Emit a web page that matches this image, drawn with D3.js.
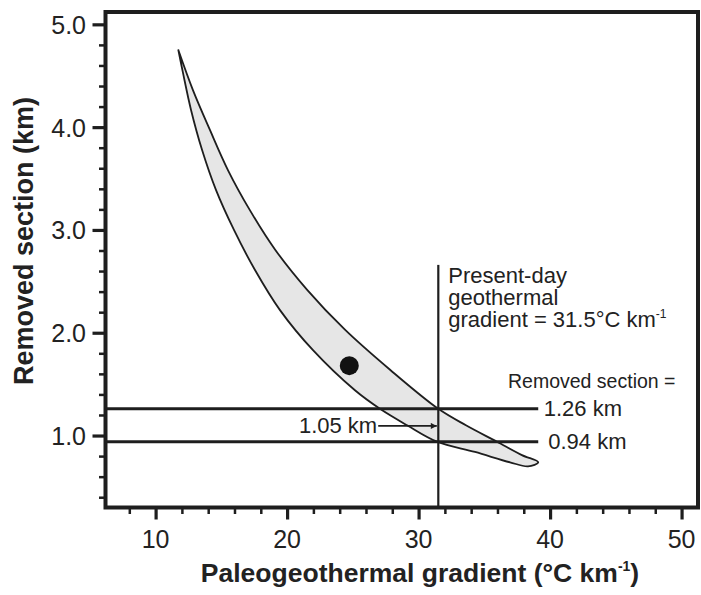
<!DOCTYPE html>
<html>
<head>
<meta charset="utf-8">
<script src="https://cdn.jsdelivr.net/npm/d3@7"></script>
<style>
  body { margin: 0; background: #fff; }
  svg { display: block; font-family: "Liberation Sans", Arial, Helvetica, sans-serif; }
</style>
</head>
<body>
<script>
// ticks
var xTicks = [10, 20, 30, 40, 50];
var xMinor = [8, 12, 14, 16, 18, 22, 24, 26, 28, 32, 34, 36, 38, 42, 44, 46, 48];
var yTicks = [1.0, 2.0, 3.0, 4.0, 5.0];
var yMinor = [0.4, 0.6, 0.8, 1.2, 1.4, 1.6, 1.8, 2.2, 2.4, 2.6, 2.8, 3.2, 3.4, 3.6, 3.8, 4.2, 4.4, 4.6, 4.8];

// band outline: upper (right) edge from top tip down to bottom tip
var upperX = [11.73, 12.84, 14.14, 15.51, 17.18, 19.08, 21.51, 24.40, 27.83, 31.50, 33.60, 35.96, 37.86, 39.10];
var upperY = [4.75, 4.36, 3.97, 3.58, 3.19, 2.81, 2.42, 2.03, 1.64, 1.26, 1.10, 0.94, 0.81, 0.74];
// lower (left) edge from top tip down to bottom tip
var lowerX = [11.73, 12.08, 12.69, 13.53, 14.59, 15.96, 17.56, 19.46, 21.97, 25.16, 27.06, 29.12, 31.40, 34.29, 36.95, 38.32, 39.10];
var lowerY = [4.75, 4.53, 4.17, 3.78, 3.39, 3.00, 2.61, 2.22, 1.83, 1.44, 1.26, 1.10, 0.94, 0.84, 0.74, 0.70, 0.74];

// sample point
var dotX = [24.73];
var dotY = [1.68];

// present-day gradient and removed sections
var presentGradient = 31.5;
var gradientTop = 2.66;
var removed = [1.26, 0.94];
var removedLabels = ["1.26 km", "0.94 km"];
var removedEnd = 39.1;
var arrowFrom = 26.93, arrowY = 1.094;

function ready() {
	var width = 701, height = 595,
			left = 105.5, right = 698, top = 12, bottom = 507.5,
			ink = '#1e1e1e';

	var svg = d3.select('body').append('svg')
		.attr('width', width)
		.attr('height', height);

	var x = d3.scaleLinear().domain([6.19, 51.25]).range([left, right]),
			y = d3.scaleLinear().domain([0.30, 5.12]).range([bottom, top]);

	svg.append('defs').append('marker')
		.attr('id', 'arr')
		.attr('viewBox', '0 0 10 10')
		.attr('refX', 10).attr('refY', 5)
		.attr('markerWidth', 8).attr('markerHeight', 6)
		.attr('markerUnits', 'userSpaceOnUse')
		.attr('orient', 'auto')
		.append('path').attr('d', 'M0,0L10,5L0,10z').attr('fill', ink);

	// band
	var pts = [];
	for (var i = 0; i < upperX.length; i++) pts.push([upperX[i], upperY[i]]);
	for (var j = lowerX.length - 2; j >= 0; j--) pts.push([lowerX[j], lowerY[j]]);
	var line = d3.line()
		.x(function(d) { return x(d[0]); })
		.y(function(d) { return y(d[1]); })
		.curve(d3.curveCatmullRom.alpha(0.5));
	svg.append('path')
		.attr('d', line(pts) + 'Z')
		.attr('fill', '#e6e6e6')
		.attr('stroke', ink)
		.attr('stroke-width', 1.8)
		.attr('stroke-linejoin', 'round');

	// dot
	svg.selectAll('circle.dot').data(dotX).enter().append('circle')
		.attr('class', 'dot')
		.attr('cx', function(d) { return x(d); })
		.attr('cy', function(d, i) { return y(dotY[i]); })
		.attr('r', 9.5)
		.attr('fill', '#111');

	// removed section lines
	svg.selectAll('line.rem').data(removed).enter().append('line')
		.attr('class', 'rem')
		.attr('x1', left).attr('x2', x(removedEnd))
		.attr('y1', function(d) { return y(d); })
		.attr('y2', function(d) { return y(d); })
		.attr('stroke', ink).attr('stroke-width', 3);

	svg.selectAll('text.rem').data(removed).enter().append('text')
		.attr('class', 'rem')
		.attr('x', function(d, i) { return x(removedEnd) + (i === 0 ? 5.5 : 10); })
		.attr('y', function(d) { return y(d) + 7.5; })
		.attr('font-size', 22)
		.attr('fill', '#222')
		.text(function(d, i) { return removedLabels[i]; });

	svg.append('text')
		.attr('x', 508).attr('y', y(removed[0]) - 21)
		.attr('font-size', 19.5)
		.attr('fill', '#222')
		.text('Removed section =');

	// present-day gradient line
	svg.append('line')
		.attr('x1', x(presentGradient)).attr('x2', x(presentGradient))
		.attr('y1', y(gradientTop)).attr('y2', bottom)
		.attr('stroke', ink).attr('stroke-width', 2.2);

	var pd = svg.append('text')
		.attr('x', x(presentGradient) + 10)
		.attr('font-size', 22)
		.attr('fill', '#222');
	pd.append('tspan').attr('x', x(presentGradient) + 10).attr('y', 283).text('Present-day');
	pd.append('tspan').attr('x', x(presentGradient) + 10).attr('y', 305).text('geothermal');
	pd.append('tspan').attr('x', x(presentGradient) + 10).attr('y', 327).text('gradient = 31.5°C km');
	pd.append('tspan').attr('dy', -9).attr('font-size', 12).text('-1');

	// 1.05 km arrow
	svg.append('line')
		.attr('x1', x(arrowFrom)).attr('x2', x(presentGradient) - 1.5)
		.attr('y1', y(arrowY)).attr('y2', y(arrowY))
		.attr('stroke', ink).attr('stroke-width', 1.6)
		.attr('marker-end', 'url(#arr)');
	svg.append('text')
		.attr('x', x(arrowFrom) - 1).attr('y', y(arrowY) + 7.5)
		.attr('text-anchor', 'end')
		.attr('font-size', 22)
		.attr('fill', '#222')
		.text('1.05 km');

	// axes
	var xAxis = svg.append('g').attr('transform', 'translate(0,' + bottom + ')');
	xAxis.call(d3.axisBottom(x).tickValues(xMinor).tickSize(6.5).tickFormat(''));
	xAxis.selectAll('line').attr('stroke', ink).attr('stroke-width', 2.5);
	var xAxisMajor = svg.append('g').attr('transform', 'translate(0,' + bottom + ')');
	xAxisMajor.call(d3.axisBottom(x).tickValues(xTicks).tickSize(12).tickFormat(''));
	xAxisMajor.selectAll('line').attr('stroke', ink).attr('stroke-width', 3.2);

	var yAxis = svg.append('g').attr('transform', 'translate(' + left + ',0)');
	yAxis.call(d3.axisLeft(y).tickValues(yMinor).tickSize(6.5).tickFormat(''));
	yAxis.selectAll('line').attr('stroke', ink).attr('stroke-width', 2.5);
	var yAxisMajor = svg.append('g').attr('transform', 'translate(' + left + ',0)');
	yAxisMajor.call(d3.axisLeft(y).tickValues(yTicks).tickSize(13).tickFormat(''));
	yAxisMajor.selectAll('line').attr('stroke', ink).attr('stroke-width', 3.2);
	svg.selectAll('.domain').remove();

	svg.selectAll('text.xt').data(xTicks).enter().append('text')
		.attr('class', 'xt')
		.attr('x', function(d) { return x(d); })
		.attr('y', 548)
		.attr('text-anchor', 'middle')
		.attr('font-size', 25)
		.attr('fill', '#222')
		.text(function(d) { return d; });

	svg.selectAll('text.yt').data(yTicks).enter().append('text')
		.attr('class', 'yt')
		.attr('x', 86)
		.attr('y', function(d) { return y(d) + 9.5; })
		.attr('text-anchor', 'end')
		.attr('font-size', 25)
		.attr('fill', '#222')
		.text(function(d) { return d.toFixed(1); });

	// frame
	svg.append('rect')
		.attr('x', left).attr('y', top)
		.attr('width', right - left).attr('height', bottom - top)
		.attr('fill', 'none')
		.attr('stroke', ink).attr('stroke-width', 4);

	// axis titles
	var xt = svg.append('text')
		.attr('x', 420).attr('y', 582)
		.attr('text-anchor', 'middle')
		.attr('font-size', 26.5)
		.attr('font-weight', 'bold')
		.attr('fill', '#222')
		.text('Paleogeothermal gradient (°C km');
	xt.append('tspan').attr('dy', -11).attr('font-size', 14).text('-1');
	xt.append('tspan').attr('dy', 11).text(')');

	svg.append('text')
		.attr('transform', 'translate(33,241) rotate(-90)')
		.attr('text-anchor', 'middle')
		.attr('font-size', 27)
		.attr('font-weight', 'bold')
		.attr('fill', '#222')
		.text('Removed section (km)');
}

ready();
</script>
</body>
</html>
